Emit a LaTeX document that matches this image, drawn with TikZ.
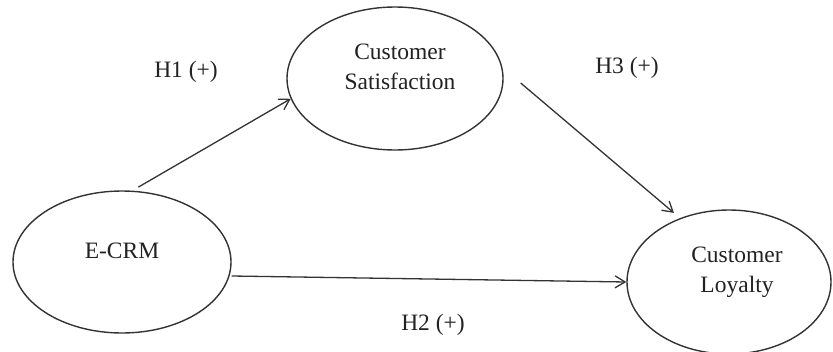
\documentclass[tikz,border=0pt]{standalone}
\usepackage{fontspec}
\setmainfont{Liberation Serif}
\usetikzlibrary{shapes.geometric,arrows.meta}
\definecolor{linec}{HTML}{333333}
\definecolor{textc}{HTML}{222222}
\tikzset{
  construct/.style={ellipse, draw=linec, line width=1.4pt, inner sep=0pt},
  lbl/.style={text=textc, font=\fontsize{23.5}{30}\selectfont, align=center, inner sep=0pt},
  hyp/.style={text=textc, font=\fontsize{23.5}{28}\selectfont, inner sep=0pt, anchor=base},
  arr/.style={draw=linec, line width=1.3pt, -{Straight Barb[length=10pt,width=12pt,line width=1.3pt]}}
}
\begin{document}
\begin{tikzpicture}[x=1pt,y=1pt]
\useasboundingbox (0,0) rectangle (833,-351);
\fill[white] (0,0) rectangle (833,-351);
% constructs
\node[construct, minimum width=216pt, minimum height=143pt] (sat) at (395,-78.5) {};
\node[construct, minimum width=218pt, minimum height=142pt] (ecrm) at (122,-262) {};
\node[construct, minimum width=204pt, minimum height=144pt] (loy) at (729,-282) {};
% labels
\node[lbl] (sattext) at (400,-67) {Customer\\Satisfaction};
\node[lbl, anchor=base] (ecrmtext) at (122,-258) {E-CRM};
\node[lbl] (loytext) at (737,-272) {Customer\\Loyalty};
% hypotheses
\node[hyp] (h1) at (186,-77) {H1 (+)};
\node[hyp] (h3) at (627,-73) {H3 (+)};
\node[hyp] (h2) at (433,-330) {H2 (+)};
% paths
\draw[arr] ([yshift=4pt]ecrm.77) -- (sat.191);
\draw[arr] ([shift={(17pt,-4.5pt)}]sat.east) -- ([shift={(-4pt,6pt)}]loy.129);
\draw[arr] ([yshift=-14pt]ecrm.east) -- (loy.west);
\end{tikzpicture}
\end{document}
